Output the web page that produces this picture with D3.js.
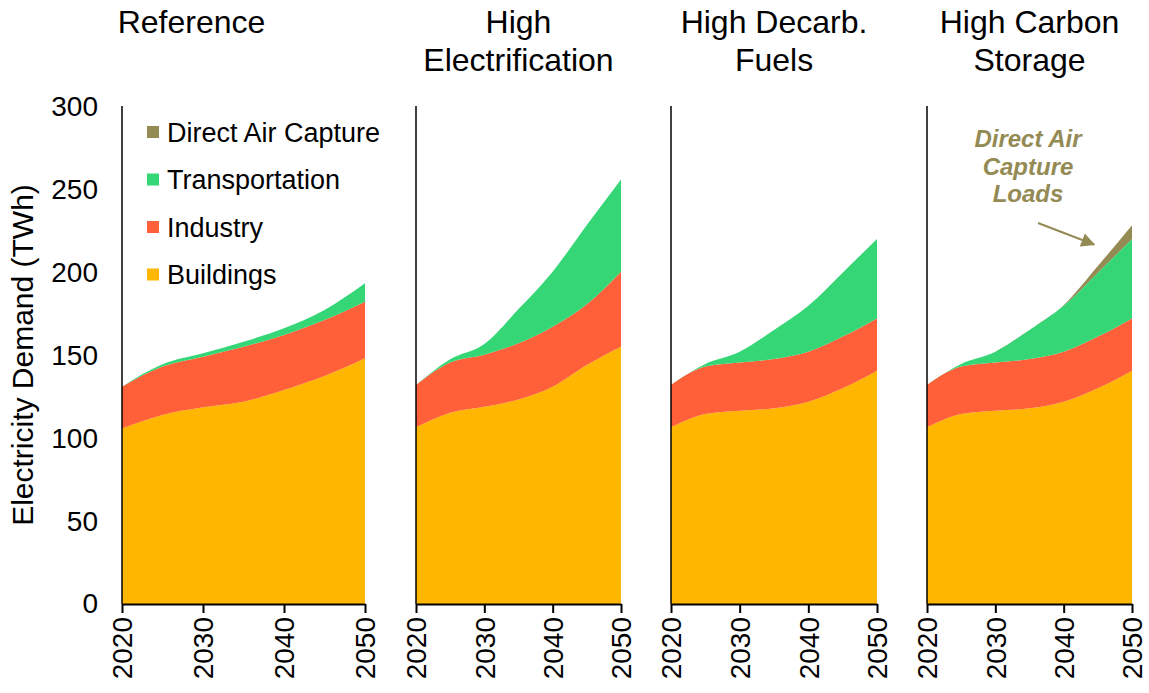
<!DOCTYPE html>
<html>
<head>
<meta charset="utf-8">
<script src="https://cdn.jsdelivr.net/npm/d3@7"></script>
<style>
  html, body { margin: 0; padding: 0; background: #fff; }
  svg { display: block; font-family: "Liberation Sans", Arial, sans-serif; }
</style>
</head>
<body>
<svg id="chart" width="1149" height="693"></svg>
<script>
// ---------- data ----------
const years = [2020, 2025, 2030, 2035, 2040, 2045, 2050];
const scenarios = [["Reference"], ["High", "Electrification"], ["High Decarb.", "Fuels"], ["High Carbon", "Storage"]];
const seriesNames = ["Buildings", "Industry", "Transportation", "Direct Air Capture"];
const seriesColors = ["#FFB600", "#FF6039", "#34D676", "#948A54"];

// values per scenario (TWh), in scenario order
const buildings = [
  [106.0, 114.1, 118.7, 122.1, 129.2, 137.6, 148.3],
  [106.7, 115.5, 119.1, 123.5, 131.2, 144.3, 155.3],
  [106.7, 114.7, 116.7, 118.1, 122.1, 130.2, 140.8],
  [106.7, 114.7, 116.7, 118.1, 122.1, 130.2, 140.8]
];
const industry = [
  [25.2, 29.2, 30.6, 33.2, 33.2, 33.8, 34.2],
  [25.5, 30.2, 31.4, 33.9, 36.2, 36.7, 45.3],
  [25.5, 28.6, 29.0, 29.8, 30.2, 31.2, 31.6],
  [25.5, 28.6, 29.0, 29.8, 30.2, 31.2, 31.6]
];
const transportation = [
  [0.0, 1.4, 2.0, 3.0, 4.0, 6.1, 11.1],
  [0.0, 2.1, 6.5, 20.6, 33.2, 47.8, 55.7],
  [0.0, 1.6, 6.6, 17.5, 27.7, 38.6, 47.9],
  [0.0, 1.6, 6.6, 17.5, 27.7, 38.6, 47.9]
];
const directAirCapture = [
  [0, 0, 0, 0, 0, 0, 0],
  [0, 0, 0, 0, 0, 0, 0],
  [0, 0, 0, 0, 0, 0, 0],
  [0, 0, 0, 0, 0.4, 4.0, 8.3]
];
const yTicks = [0, 50, 100, 150, 200, 250, 300];
const xTicks = [2020, 2030, 2040, 2050];
const legendOrder = ["Direct Air Capture", "Transportation", "Industry", "Buildings"];
const annotationLines = ["Direct Air", "Capture", "Loads"];

// ---------- layout ----------
const svg = d3.select("#chart");
const panelRanges = [[122, 365], [416, 621], [671, 877], [927, 1132]];
const y = d3.scaleLinear().domain([0, 300]).range([604, 107]);

const stack = d3.stack().keys(seriesNames);

scenarios.forEach((title, si) => {
  const x = d3.scaleLinear().domain([2020, 2050]).range(panelRanges[si]);
  const rows = years.map((yr, i) => ({
    year: yr,
    "Buildings": buildings[si][i],
    "Industry": industry[si][i],
    "Transportation": transportation[si][i],
    "Direct Air Capture": directAirCapture[si][i]
  }));
  const layers = stack(rows);
  const area = d3.area()
    .curve(d3.curveMonotoneX)
    .x(d => x(d.data.year))
    .y0(d => y(d[0]))
    .y1(d => y(d[1]));

  const g = svg.append("g");
  g.selectAll("path.layer")
    .data(layers)
    .join("path")
    .attr("class", "layer")
    .attr("d", area)
    .attr("fill", (d, i) => seriesColors[i]);

  // x axis
  const xAxis = d3.axisBottom(x).tickValues(xTicks).tickFormat(d3.format("d"))
    .tickSizeOuter(0).tickSizeInner(9);
  const xg = g.append("g").attr("transform", "translate(0,604)").call(xAxis);
  xg.select(".domain").attr("stroke", "#000").attr("stroke-width", 2);
  xg.selectAll(".tick line").attr("stroke", "#000").attr("stroke-width", 2);
  xg.selectAll(".tick text")
    .attr("font-size", 28)
    .attr("font-family", "Liberation Sans, Arial, sans-serif")
    .attr("fill", "#000")
    .attr("transform", "rotate(-90)")
    .attr("text-anchor", "end")
    .attr("x", -13)
    .attr("y", 0)
    .attr("dy", "0.35em");

  // y axis
  const yAxis = d3.axisLeft(y).tickValues(yTicks).tickSize(0).tickPadding(24);
  if (si > 0) yAxis.tickFormat("");
  const yg = g.append("g").attr("transform", `translate(${panelRanges[si][0]},0)`).call(yAxis);
  yg.select(".domain").attr("stroke", "#000").attr("stroke-width", 1.5).attr("d", `M0,106V604`);
  yg.selectAll(".tick text")
    .attr("font-size", 28)
    .attr("font-family", "Liberation Sans, Arial, sans-serif")
    .attr("fill", "#000");

  // title
  const cx = (panelRanges[si][0] + panelRanges[si][1]) / 2 + (si === 0 ? -52 : 0);
  const t = g.append("text")
    .attr("text-anchor", "middle")
    .attr("font-size", 32)
    .attr("fill", "#000");
  title.forEach((line, li) => {
    t.append("tspan").attr("x", cx).attr("y", 33 + li * 38).text(line);
  });
});

// y axis label
svg.append("text")
  .attr("transform", "translate(33,355) rotate(-90)")
  .attr("text-anchor", "middle")
  .attr("font-size", 30)
  .attr("fill", "#000")
  .text("Electricity Demand (TWh)");

// legend
const legend = svg.append("g");
legendOrder.forEach((name, i) => {
  const cy = 132 + i * 47.5;
  const color = seriesColors[seriesNames.indexOf(name)];
  legend.append("rect")
    .attr("x", 147).attr("y", cy - 6).attr("width", 12).attr("height", 12)
    .attr("fill", color);
  legend.append("text")
    .attr("x", 167).attr("y", cy + 9.5)
    .attr("font-size", 27)
    .attr("fill", "#000")
    .text(name);
});

// annotation
const ann = svg.append("g");
annotationLines.forEach((line, i) => {
  ann.append("text")
    .attr("x", 1028).attr("y", 147 + i * 27.7)
    .attr("text-anchor", "middle")
    .attr("font-size", 24)
    .attr("font-weight", "bold")
    .attr("font-style", "italic")
    .attr("fill", "#948A54")
    .text(line);
});
svg.append("defs").append("marker")
  .attr("id", "arrow")
  .attr("viewBox", "0 0 10 10")
  .attr("refX", 9).attr("refY", 5)
  .attr("markerWidth", 7).attr("markerHeight", 7)
  .attr("markerUnits", "strokeWidth")
  .attr("orient", "auto")
  .append("path").attr("d", "M0,0L10,5L0,10Z").attr("fill", "#948A54");
ann.append("line")
  .attr("x1", 1038).attr("y1", 223)
  .attr("x2", 1094).attr("y2", 244.5)
  .attr("stroke", "#948A54").attr("stroke-width", 2)
  .attr("marker-end", "url(#arrow)");
</script>
</body>
</html>
